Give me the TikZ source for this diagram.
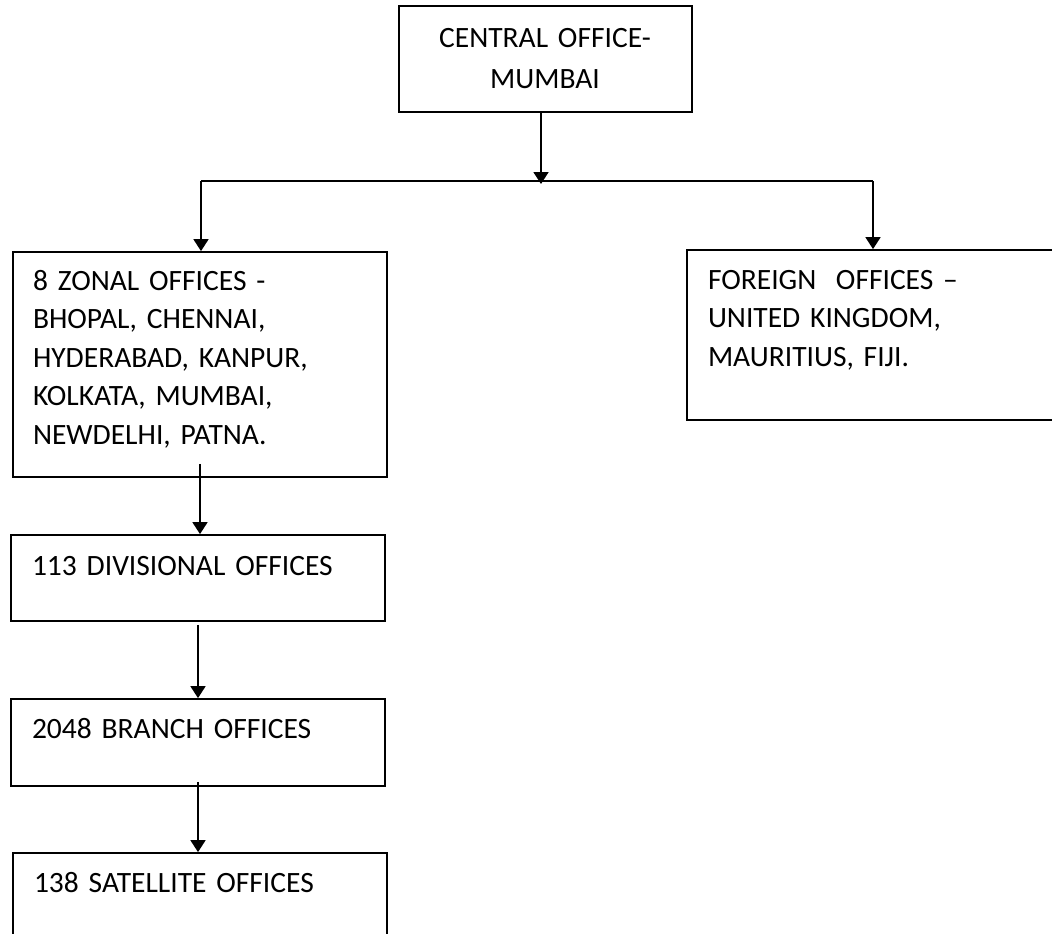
\documentclass[tikz,border=0pt]{standalone}
\usepackage{fontspec}
\setmainfont{Carlito}
\usetikzlibrary{arrows.meta}
\begin{document}
\begin{tikzpicture}[x=1pt,y=-1pt,
  box/.style={draw=black,line width=1.8pt,rectangle,inner sep=0pt,fill=none},
  lbl/.style={inner sep=0pt,outer sep=0pt,font=\fontsize{29.5}{38.5}\selectfont,text width=#1,align=left,anchor=base west},
  clbl/.style={inner sep=0pt,outer sep=0pt,font=\fontsize{29.5}{41}\selectfont,text width=290pt,align=center,anchor=base},
  arr/.style={line width=1.8pt,-{Triangle[length=12pt,width=15pt]}},
  conn/.style={line width=1.8pt}
]
\useasboundingbox (0,0) rectangle (1052,934);
\clip (0,0) rectangle (1052,934);
\fill[white] (0,0) rectangle (1052,934);

% boxes
\node[box,minimum width=293pt,minimum height=106pt] (cen) at (545.5,59) {};
\node[box,minimum width=374pt,minimum height=225pt] (zon) at (200,364.5) {};
\node[box,minimum width=378pt,minimum height=170pt] (for) at (876,335) {};
\node[box,minimum width=374pt,minimum height=86pt] (div) at (198,578) {};
\node[box,minimum width=374pt,minimum height=87pt] (bra) at (198,742.5) {};
\node[box,minimum width=374pt,minimum height=92pt] (sat) at (200,899) {};

% texts
\node[clbl] (tcen) at (545,48) {CENTRAL OFFICE-\\MUMBAI};
\node[lbl=350pt] (tzon) at (33,290) {8 ZONAL OFFICES -\\BHOPAL, CHENNAI,\\HYDERABAD, KANPUR,\\KOLKATA, MUMBAI,\\NEWDELHI, PATNA.};
\node[lbl=340pt] (tfor) at (708,289) {FOREIGN\ \ OFFICES –\\UNITED KINGDOM,\\MAURITIUS, FIJI.};
\node[lbl=350pt] (tdiv) at (32,575) {113 DIVISIONAL OFFICES};
\node[lbl=350pt] (tbra) at (32,738) {2048 BRANCH OFFICES};
\node[lbl=350pt] (tsat) at (34,892) {138 SATELLITE OFFICES};

% connectors
\coordinate (j) at (541,181);
\coordinate (jl) at (201,181);
\coordinate (jr) at (873,181);
\draw[conn] (jl) -- (jr);
\draw[arr] (j |- cen.south) -- ([yshift=-3pt]j);
\draw[arr] (jl) -- (jl |- zon.north);
\draw[arr] (jr) -- (jr |- for.north);
\draw[arr] ([yshift=14pt]zon.south) -- (div.north -| zon.south);
\draw[arr] ([yshift=-3pt]div.south) -- (bra.north);
\draw[arr] ([yshift=5pt]bra.south) -- (sat.north -| bra.south);
\end{tikzpicture}
\end{document}
